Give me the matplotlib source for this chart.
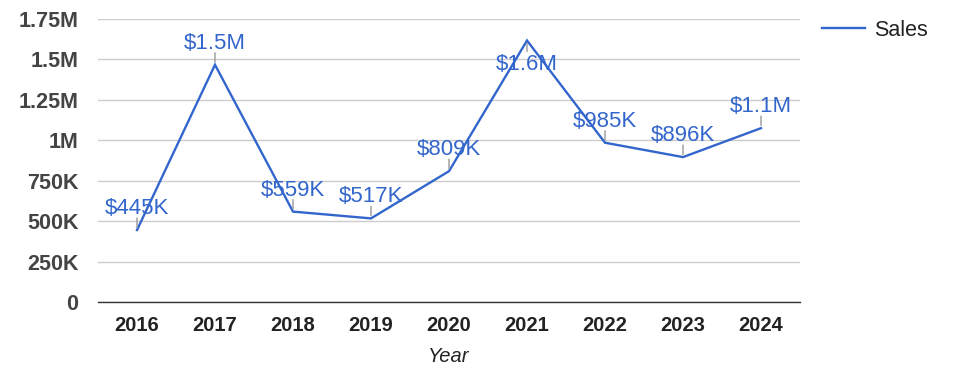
import matplotlib
matplotlib.use("Agg")
import matplotlib.pyplot as plt
from matplotlib.ticker import FixedLocator, FuncFormatter

years = ["2016", "2017", "2018", "2019", "2020", "2021", "2022", "2023", "2024"]
sales = [445000, 1467000, 559000, 517000, 809000, 1617000, 985000, 896000, 1075000]
labels = ["$445K", "$1.5M", "$559K", "$517K", "$809K", "$1.6M", "$985K", "$896K", "$1.1M"]
ytick_vals = [0, 250000, 500000, 750000, 1000000, 1250000, 1500000, 1750000]
ytick_labels = ["0", "250K", "500K", "750K", "1M", "1.25M", "1.5M", "1.75M"]

LINE = "#3366cc"
W, H = 975, 378
fig = plt.figure(figsize=(W / 100, H / 100), dpi=100)
ax = fig.add_axes([98 / W, 76 / H, (800 - 98) / W, (302 - 19) / H])

x = list(range(len(years)))
ax.plot(x, sales, color=LINE, lw=1.7, label="Sales", zorder=3, solid_joinstyle="miter")
ax.set_xlim(-0.5, len(years) - 0.5)
ax.set_ylim(0, 1750000)

ax.yaxis.set_major_locator(FixedLocator(ytick_vals))
ax.yaxis.set_major_formatter(FuncFormatter(lambda v, p: ytick_labels[ytick_vals.index(int(round(v)))] if int(round(v)) in ytick_vals else ""))
ax.grid(axis="y", color="#cccccc", lw=1)
ax.set_axisbelow(True)
for s in ["top", "right", "left"]:
    ax.spines[s].set_visible(False)
ax.spines["bottom"].set_color("#333333")
ax.spines["bottom"].set_linewidth(1)
ax.tick_params(axis="both", length=0)
ax.tick_params(axis="y", pad=14)
ax.tick_params(axis="x", pad=10)
for t in ax.get_yticklabels():
    t.set_fontfamily(["Liberation Sans", "DejaVu Sans"])
    t.set_fontweight("bold")
    t.set_fontsize(15.5)
    t.set_color("#444444")
ax.set_xticks(x)
ax.set_xticklabels(years, family=["Liberation Sans Narrow", "Liberation Sans", "DejaVu Sans"],
                   fontweight="bold", fontsize=14.5, color="#222222")
ax.set_xlabel("Year", family=["Liberation Sans Narrow", "Liberation Sans", "DejaVu Sans"],
              style="italic", fontsize=14.5, color="#222222", labelpad=9)

for xi, v, lab in zip(x, sales, labels):
    below = v > 1550000
    if below:
        ax.annotate("", xy=(xi, v), xytext=(0, -11), textcoords="offset pixels",
                    arrowprops=dict(arrowstyle="-", color="#999999", lw=1, shrinkA=0, shrinkB=2))
        ax.annotate(lab, xy=(xi, v), xytext=(0, -13), textcoords="offset pixels",
                    ha="center", va="top", fontsize=16, color=LINE,
                    family=["Liberation Sans", "DejaVu Sans"], zorder=4)
    else:
        ax.annotate("", xy=(xi, v), xytext=(0, 12), textcoords="offset pixels",
                    arrowprops=dict(arrowstyle="-", color="#999999", lw=1, shrinkA=0, shrinkB=2))
        ax.annotate(lab, xy=(xi, v), xytext=(0, 16), textcoords="offset pixels",
                    ha="center", va="baseline", fontsize=16, color=LINE,
                    family=["Liberation Sans", "DejaVu Sans"], zorder=4)

leg = ax.legend(loc="center left", bbox_to_anchor=(822 / W, 1 - 30 / H), bbox_transform=fig.transFigure,
                frameon=False, borderpad=0, borderaxespad=0, handlelength=2.0, handletextpad=0.42,
                prop={"family": ["Liberation Sans", "DejaVu Sans"], "size": 15.5})
for t in leg.get_texts():
    t.set_color("#222222")

fig.savefig("out.png", dpi=100)
